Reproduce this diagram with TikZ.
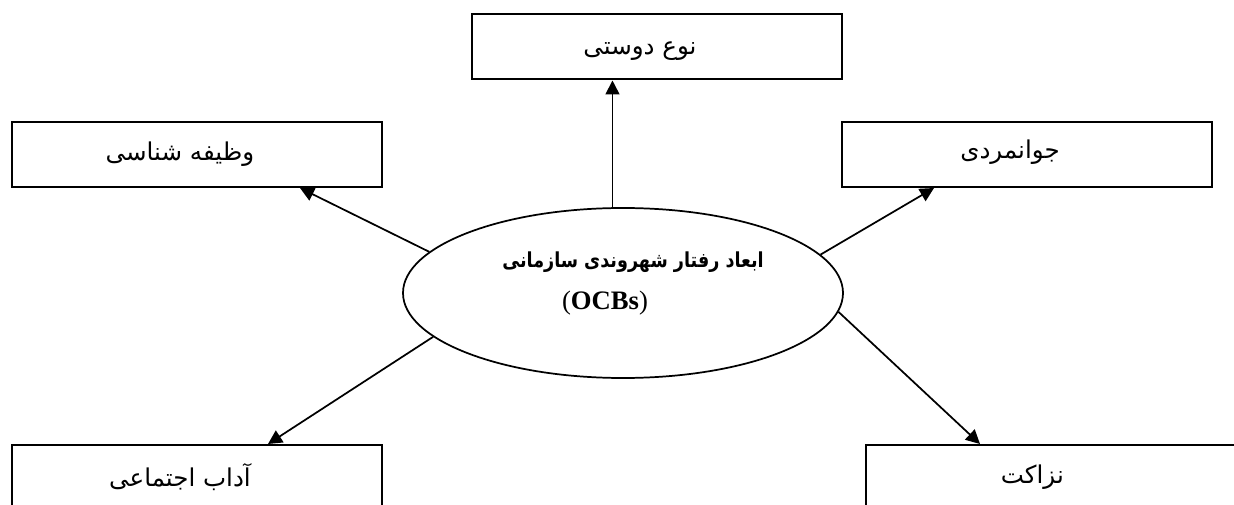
\documentclass[tikz,border=0pt]{standalone}
\usepackage{fontspec}
\setmainfont{Liberation Serif}
\newfontfamily\fa[Script=Arabic]{DejaVu Sans}
\newfontfamily\fab[Script=Arabic,FakeStretch=0.85]{DejaVu Sans}
\TeXXeTstate=1
\usetikzlibrary{arrows.meta,calc,shapes.geometric}
\begin{document}
\begin{tikzpicture}[x=0.75pt,y=0.75pt,
  box/.style={draw, line width=1.5pt, minimum width=277.5pt, minimum height=48.75pt, inner sep=0pt},
  lbl/.style={font=\fa\fontsize{18.4}{22}\selectfont, inner sep=0pt},
  oval/.style={draw, ellipse, line width=1.3pt, minimum width=330pt, minimum height=127.5pt, inner sep=0pt},
  etxt/.style={font=\fab\bfseries\fontsize{15.5}{18}\selectfont, inner sep=0pt},
  etxtb/.style={font=\fontsize{20}{24}\selectfont, inner sep=0pt},
  arr/.style={line width=1.3pt, -{Triangle[length=10.5pt,width=10.5pt]}}]
\useasboundingbox (0,0) rectangle (1234,504);
\clip (0,0) rectangle (1234,504);
\node[box, label={[lbl, xshift=-12.75pt, yshift=-3pt]center:\beginR نوع دوستی\endR}] (tb) at (657,457) {};
\node[box, label={[lbl, xshift=-12.75pt]center:\beginR وظیفه شناسی\endR}] (lb) at (197,349.5) {};
\node[box, label={[lbl, xshift=-12.75pt, yshift=2pt]center:\beginR جوانمردی\endR}] (rb) at (1027,349.5) {};
\node[box, label={[lbl, xshift=-12.75pt, yshift=0pt]center:\beginR آداب اجتماعی\endR}] (bl) at (197,26.5) {};
\node[box, label={[lbl, xshift=-14pt, yshift=0pt]center:\beginR نزاکت\endR}] (br) at (1051,26.5) {};
\node[oval] (e) at (623,211) {};
\node[etxt] (t1) at ($(e)+(10,31)$) {\beginR ابعاد رفتار شهروندی سازمانی\endR};
\node[etxtb] (t2) at ($(e)+(-18,-10)$) {(\textbf{OCBs})};
\draw[arr] (e.97.4) -- (e.97.4 |- tb.south);
\draw[arr] (e.168) -- ($(lb.south)+(103,0)$);
\draw[arr] (e.11.8) -- ($(rb.south)+(-93,0)$);
\draw[arr] (e.193) -- ($(bl.north)+(71,0)$);
\draw[arr] (e.-5.7) -- ($(br.north)+(-71,0)$);
\end{tikzpicture}
\end{document}
